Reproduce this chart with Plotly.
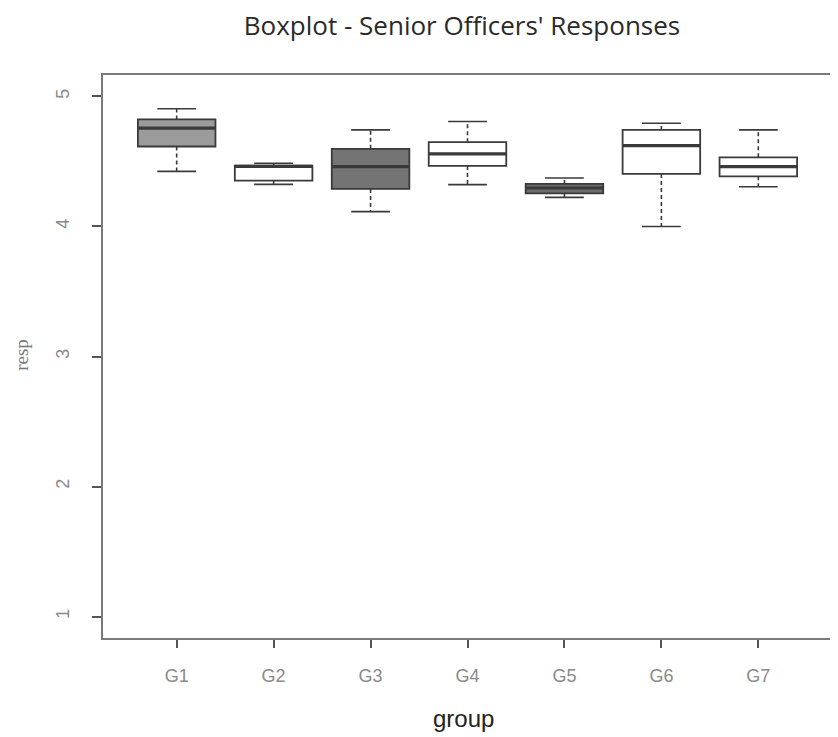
import plotly.graph_objects as go

groups = ["G1", "G2", "G3", "G4", "G5", "G6", "G7"]
minimum = [4.424, 4.324, 4.114, 4.322, 4.224, 4.000, 4.306]
q1 = [4.615, 4.353, 4.289, 4.466, 4.255, 4.404, 4.386]
median = [4.756, 4.462, 4.460, 4.558, 4.296, 4.622, 4.460]
q3 = [4.823, 4.468, 4.597, 4.648, 4.327, 4.743, 4.532]
maximum = [4.905, 4.486, 4.743, 4.807, 4.373, 4.794, 4.743]
fills = ["#9b9b9b", "#ffffff", "#747474", "#ffffff", "#6c6c6c", "#ffffff", "#ffffff"]
y_ticks = [1, 2, 3, 4, 5]

pos = list(range(1, len(groups) + 1))
BOXW = 0.8
CAPW = 0.4
LINE = "#3a3a3a"

fig = go.Figure()

# dashed whiskers
wx, wy = [], []
for p, lo, a, b, hi in zip(pos, minimum, q1, q3, maximum):
    wx += [p, p, None, p, p, None]
    wy += [b, hi, None, a, lo, None]
fig.add_trace(go.Scatter(x=wx, y=wy, mode="lines",
                         line=dict(color=LINE, width=1.6, dash="4px,3px"),
                         hoverinfo="skip", showlegend=False))
# caps
cx, cy = [], []
for p, lo, hi in zip(pos, minimum, maximum):
    cx += [p - CAPW / 2, p + CAPW / 2, None, p - CAPW / 2, p + CAPW / 2, None]
    cy += [hi, hi, None, lo, lo, None]
fig.add_trace(go.Scatter(x=cx, y=cy, mode="lines",
                         line=dict(color=LINE, width=1.6),
                         hoverinfo="skip", showlegend=False))

# boxes
for p, g, a, m, b, f in zip(pos, groups, q1, median, q3, fills):
    fig.add_trace(go.Box(x=[p], q1=[a], median=[m], q3=[b],
                         lowerfence=[a], upperfence=[b],
                         width=BOXW, whiskerwidth=0,
                         fillcolor=f, line=dict(color=LINE, width=1.8),
                         name=g, showlegend=False))

# thick medians
mx, my = [], []
for p, m in zip(pos, median):
    mx += [p - BOXW / 2, p + BOXW / 2, None]
    my += [m, m, None]
fig.add_trace(go.Scatter(x=mx, y=my, mode="lines",
                         line=dict(color=LINE, width=3.2),
                         hoverinfo="skip", showlegend=False))

fig.update_layout(
    width=830, height=729,
    margin=dict(l=95, r=6, t=67, b=99),
    paper_bgcolor="white", plot_bgcolor="white",
    title=dict(text="Boxplot - Senior Officers' Responses",
               x=0.547, xanchor="center", y=0.976, yanchor="middle",
               font=dict(family="Open Sans", size=26, color="#2a2a2a")),
    showlegend=False,
    annotations=[
        dict(text="group", xref="paper", yref="paper", x=0.495, y=0,
             xanchor="center", yanchor="middle", yshift=-80, showarrow=False,
             font=dict(family="Liberation Sans Narrow, Liberation Sans", size=24, color="#222")),
        dict(text="resp", xref="paper", yref="paper", x=0, y=0.503,
             xanchor="center", yanchor="middle", xshift=-81, textangle=-90,
             showarrow=False, borderpad=0,
             font=dict(family="Liberation Serif", size=19, color="#777")),
    ],
)
fig.update_xaxes(
    range=[0.24, 7.76], tickmode="array", tickvals=pos, ticktext=groups,
    showgrid=False, zeroline=False, automargin=False,
    showline=True, mirror=True, linecolor="#7a7a7a", linewidth=2,
    ticks="outside", ticklen=8, tickcolor="#555", tickwidth=1.5,
    ticklabelstandoff=12,
    tickfont=dict(family="Liberation Sans Narrow, Liberation Sans", size=18, color="#8a8a8a"),
)
fig.update_yaxes(
    range=[0.835, 5.165], tickmode="array", tickvals=y_ticks,
    showgrid=False, zeroline=False, automargin=False,
    showline=True, mirror=True, linecolor="#7a7a7a", linewidth=2,
    ticks="outside", ticklen=9, tickcolor="#555", tickwidth=1.5,
    tickangle=-90, ticklabelstandoff=16,
    tickfont=dict(family="Liberation Sans Narrow, Liberation Sans", size=18, color="#8a8a8a"),
)

fig.write_html("out.html")
